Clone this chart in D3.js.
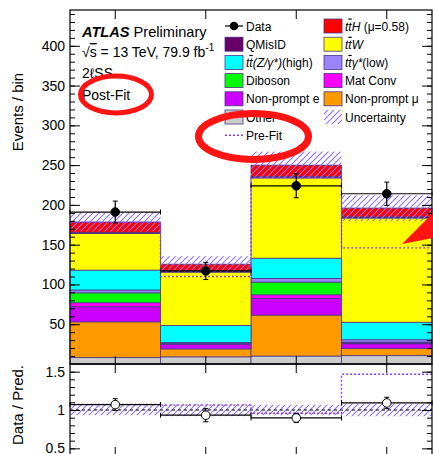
<!DOCTYPE html>
<html>
<head>
<meta charset="utf-8">
<script src="https://cdn.jsdelivr.net/npm/d3@7"></script>
<style>
  html, body { margin: 0; padding: 0; background: #fff; }
  svg { display: block; font-family: "Liberation Sans", Arial, sans-serif; }
  .axis path { display: none; }
  .axis line { stroke: #000; stroke-width: 1; }
  .axis text { font-size: 14px; fill: #000; }
</style>
</head>
<body>
<svg id="chart" width="433" height="454"></svg>
<script>
// bins of the 2lSS region
const bins = ['1', '2', '3', '4'];

// post-fit yields per bin (events), bottom of stack first
const other = [8, 9, 10, 10.5];
const nonPromptMu = [45, 10, 51.5, 9];
const nonPromptE = [19, 5.5, 21, 6];
const matConv = [5, 1, 4.5, 1];
const diboson = [12.5, 0.5, 16, 1];
const ttGammaLow = [3.5, 1, 4.5, 3];
const ttZHigh = [25, 21.5, 25.5, 22];
const ttW = [46, 67, 101, 131];
const qMisID = [1.5, 1.5, 1.5, 1.5];
const ttH = [13, 8.5, 14.5, 11];

const uncertainty = [12, 10, 17, 16];
const data = [191, 117, 224, 214];
const dataErr = [13.8, 10.8, 15, 14.6];
const preFit = [178, 110, 234, 146];

const yMajorTicks = [50, 100, 150, 200, 250, 300, 350, 400];
const ratioMajorTicks = [0.5, 1, 1.5];

const samples = [
  { key: 'other', color: '#cccccc', values: other },
  { key: 'npMu', color: '#ff9900', values: nonPromptMu },
  { key: 'npE', color: '#cc00ff', values: nonPromptE },
  { key: 'matConv', color: '#ff00ff', values: matConv },
  { key: 'diboson', color: '#00ff00', values: diboson },
  { key: 'ttGamma', color: '#9b85ff', values: ttGammaLow },
  { key: 'ttZ', color: '#00ffff', values: ttZHigh },
  { key: 'ttW', color: '#ffff00', values: ttW },
  { key: 'qMisID', color: '#660066', values: qMisID },
  { key: 'ttH', color: '#ff0000', values: ttH },
];
const colorOf = {};
samples.forEach((s) => (colorOf[s.key] = s.color));

const LEFT = 70;
const RIGHT = 432;
const TOP = 10;
const MAIN_BOTTOM = 364;
const RATIO_BOTTOM = 456;

const outline = '#4a3588';
const hatchColor = '#8e70ee';
const preFitColor = '#8a3cf0';

const svg = d3.select('#chart');

const defs = svg.append('defs');
defs
  .append('pattern')
  .attr('id', 'hatch')
  .attr('patternUnits', 'userSpaceOnUse')
  .attr('width', 6)
  .attr('height', 6)
  .append('path')
  .attr('d', 'M-1,1 l2,-2 M0,6 l6,-6 M5,7 l2,-2')
  .attr('stroke', hatchColor)
  .attr('stroke-width', 1.1);

//
// Scales
//

const x = d3.scaleBand().domain(bins).range([LEFT, RIGHT]).padding(0);
const bw = x.bandwidth();
const y = d3.scaleLinear().domain([0, 445]).range([MAIN_BOTTOM, TOP]);
const r = d3.scaleLinear().domain([0.4, 1.6]).range([RATIO_BOTTOM, MAIN_BOTTOM]);

//
// Stack
//

const table = bins.map((b, i) => {
  const row = { bin: b };
  samples.forEach((s) => (row[s.key] = s.values[i]));
  return row;
});
const stacked = d3.stack().keys(samples.map((s) => s.key))(table);
const totals = bins.map((b, i) => d3.sum(samples, (s) => s.values[i]));

const stackGroup = svg.append('g');
stacked.forEach((layer) => {
  stackGroup
    .selectAll(null)
    .data(layer)
    .join('rect')
    .attr('x', (d) => x(d.data.bin))
    .attr('width', bw)
    .attr('y', (d) => y(d[1]))
    .attr('height', (d) => y(d[0]) - y(d[1]))
    .attr('fill', colorOf[layer.key])
    .attr('stroke', outline)
    .attr('stroke-width', 0.8);
});

// uncertainty band
svg
  .append('g')
  .selectAll('rect')
  .data(bins)
  .join('rect')
  .attr('x', (b) => x(b))
  .attr('width', bw)
  .attr('y', (b, i) => y(totals[i] + uncertainty[i]))
  .attr('height', (b, i) => y(totals[i] - uncertainty[i]) - y(totals[i] + uncertainty[i]))
  .attr('fill', 'url(#hatch)');

// pre-fit step line
const stepPoints = (vals) =>
  vals.map((v, i) => [x(bins[i]), v]).concat([[RIGHT, vals[vals.length - 1]]]);

svg
  .append('path')
  .datum(stepPoints(preFit))
  .attr('fill', 'none')
  .attr('stroke', preFitColor)
  .attr('stroke-width', 1.4)
  .attr('stroke-dasharray', '2,2')
  .attr('d', d3.line().curve(d3.curveStepAfter).x((d) => d[0]).y((d) => y(d[1])));

//
// Data points
//

function drawPoints(g, vals, errs, scale, open) {
  vals.forEach((v, i) => {
    const x0 = x(bins[i]);
    const cx = x0 + bw / 2;
    const cy = scale(v);
    g.append('line')
      .attr('x1', x0).attr('x2', x0 + bw)
      .attr('y1', cy).attr('y2', cy)
      .attr('stroke', '#000').attr('stroke-width', 1.2);
    [x0, x0 + bw].forEach((ex) =>
      g.append('line')
        .attr('x1', ex).attr('x2', ex)
        .attr('y1', cy - 2.5).attr('y2', cy + 2.5)
        .attr('stroke', '#000').attr('stroke-width', 1));
    const top = scale(v + errs[i]);
    const bot = scale(v - errs[i]);
    g.append('line')
      .attr('x1', cx).attr('x2', cx)
      .attr('y1', top).attr('y2', bot)
      .attr('stroke', '#000').attr('stroke-width', 1.2);
    [top, bot].forEach((ey) =>
      g.append('line')
        .attr('x1', cx - 2.5).attr('x2', cx + 2.5)
        .attr('y1', ey).attr('y2', ey)
        .attr('stroke', '#000').attr('stroke-width', 1));
    g.append('circle')
      .attr('cx', cx).attr('cy', cy).attr('r', 4.3)
      .attr('fill', open ? '#fff' : '#000')
      .attr('stroke', '#000').attr('stroke-width', 1);
  });
}

drawPoints(svg.append('g'), data, dataErr, y, false);

//
// Ratio panel
//

const ratio = svg.append('g');

ratio
  .selectAll('rect')
  .data(bins)
  .join('rect')
  .attr('x', (b) => x(b))
  .attr('width', bw)
  .attr('y', (b, i) => r(1 + uncertainty[i] / totals[i]))
  .attr('height', (b, i) => r(1 - uncertainty[i] / totals[i]) - r(1 + uncertainty[i] / totals[i]))
  .attr('fill', 'url(#hatch)');

ratio
  .append('line')
  .attr('x1', LEFT).attr('x2', RIGHT)
  .attr('y1', r(1)).attr('y2', r(1))
  .attr('stroke', '#000').attr('stroke-width', 1)
  .attr('stroke-dasharray', '3,3');

ratio
  .append('path')
  .datum(stepPoints(data.map((d, i) => d / preFit[i])))
  .attr('fill', 'none')
  .attr('stroke', preFitColor)
  .attr('stroke-width', 1.4)
  .attr('stroke-dasharray', '2,2')
  .attr('d', d3.line().curve(d3.curveStepAfter).x((d) => d[0]).y((d) => r(d[1])));

drawPoints(
  ratio,
  data.map((d, i) => d / totals[i]),
  dataErr.map((e, i) => e / totals[i]),
  r,
  true,
);

//
// Frames and axes
//

[[TOP, MAIN_BOTTOM], [MAIN_BOTTOM, RATIO_BOTTOM]].forEach(([t, b]) =>
  svg.append('rect')
    .attr('x', LEFT).attr('y', t)
    .attr('width', RIGHT - LEFT).attr('height', b - t)
    .attr('fill', 'none').attr('stroke', '#000').attr('stroke-width', 1.2));

function yAxes(scale, majors, minors, fmt) {
  svg.append('g').attr('class', 'axis')
    .attr('transform', `translate(${LEFT},0)`)
    .call(d3.axisLeft(scale).tickValues(majors).tickSize(-10).tickPadding(5).tickFormat(fmt));
  svg.append('g').attr('class', 'axis')
    .attr('transform', `translate(${LEFT},0)`)
    .call(d3.axisLeft(scale).tickValues(minors).tickSize(-5).tickFormat(''));
  svg.append('g').attr('class', 'axis')
    .attr('transform', `translate(${RIGHT},0)`)
    .call(d3.axisRight(scale).tickValues(majors).tickSize(-10).tickFormat(''));
  svg.append('g').attr('class', 'axis')
    .attr('transform', `translate(${RIGHT},0)`)
    .call(d3.axisRight(scale).tickValues(minors).tickSize(-5).tickFormat(''));
}

yAxes(y, yMajorTicks, d3.range(10, 445, 10), d3.format('d'));
yAxes(r, ratioMajorTicks, d3.range(0.5, 1.6, 0.1), (d) => `${d}`);

[TOP, MAIN_BOTTOM].forEach((ty) =>
  svg.append('g').attr('class', 'axis')
    .attr('transform', `translate(0,${ty})`)
    .call(d3.axisTop(x).tickSize(-9).tickFormat('')));
[MAIN_BOTTOM + 1, RATIO_BOTTOM].forEach((ty) =>
  svg.append('g').attr('class', 'axis')
    .attr('transform', `translate(0,${ty})`)
    .call(d3.axisBottom(x).tickSize(-9).tickFormat('')));

svg.append('text')
  .attr('transform', 'translate(23,112) rotate(-90)')
  .attr('text-anchor', 'middle')
  .attr('font-size', 15)
  .text('Events / bin');

svg.append('text')
  .attr('transform', 'translate(23,405) rotate(-90)')
  .attr('text-anchor', 'middle')
  .attr('font-size', 15)
  .text('Data / Pred.');

//
// Labels
//

function rich(sel, parts) {
  parts.forEach(([t, style]) => {
    const ts = sel.append('tspan').text(t);
    if (style && style.includes('i')) ts.attr('font-style', 'italic');
    if (style && style.includes('o')) ts.style('text-decoration', 'overline');
    if (style && style.includes('b')) ts.attr('font-weight', 'bold');
    if (style && style.includes('s')) ts.attr('font-size', 10).attr('dy', -6);
  });
  return sel;
}

const info = svg.append('g').attr('font-size', 14.6);
rich(info.append('text').attr('x', 82).attr('y', 37), [['ATLAS', 'bi'], ['  Preliminary']]);
rich(info.append('text').attr('x', 82).attr('y', 57).attr('font-size', 14), [
  ['√'], ['s', 'o'], [' = 13 TeV, 79.9 fb'], ['-1', 's'],
]);
info.append('text').attr('x', 82).attr('y', 78).attr('font-size', 14).text('2ℓSS');
info.append('text').attr('x', 82).attr('y', 100).attr('font-size', 14).text('Post-Fit');

//
// Legend
//

const tt = [['t', 'i'], ['t', 'io']];
const legendLeft = [
  { type: 'data', label: [['Data']] },
  { type: 'box', key: 'qMisID', label: [['QMisID']] },
  { type: 'box', key: 'ttZ', label: [...tt, ['(Z/γ*)', 'i'], ['(high)']] },
  { type: 'box', key: 'diboson', label: [['Diboson']] },
  { type: 'box', key: 'npE', label: [['Non-prompt e']] },
  { type: 'box', key: 'other', label: [['Other']] },
  { type: 'prefit', label: [['Pre-Fit']] },
];
const legendRight = [
  { type: 'box', key: 'ttH', label: [...tt, ['H', 'i'], [' (μ=0.58)']] },
  { type: 'box', key: 'ttW', label: [...tt, ['W', 'i']] },
  { type: 'box', key: 'ttGamma', label: [...tt, ['γ*', 'i'], ['(low)']] },
  { type: 'box', key: 'matConv', label: [['Mat Conv']] },
  { type: 'box', key: 'npMu', label: [['Non-prompt μ']] },
  { type: 'hatch', label: [['Uncertainty']] },
];

function drawLegend(items, bx) {
  items.forEach((it, i) => {
    const cy = 26 + i * 18.2;
    const g = svg.append('g');
    if (it.type === 'box') {
      g.append('rect')
        .attr('x', bx).attr('y', cy - 7).attr('width', 18).attr('height', 14)
        .attr('fill', colorOf[it.key]).attr('stroke', outline).attr('stroke-width', 0.8);
    } else if (it.type === 'hatch') {
      g.append('rect')
        .attr('x', bx).attr('y', cy - 7).attr('width', 18).attr('height', 14)
        .attr('fill', 'url(#hatch)');
    } else if (it.type === 'data') {
      g.append('line')
        .attr('x1', bx).attr('x2', bx + 18).attr('y1', cy).attr('y2', cy)
        .attr('stroke', '#000').attr('stroke-width', 1.2);
      g.append('circle').attr('cx', bx + 9).attr('cy', cy).attr('r', 4.3).attr('fill', '#000');
    } else {
      g.append('line')
        .attr('x1', bx).attr('x2', bx + 18).attr('y1', cy).attr('y2', cy)
        .attr('stroke', preFitColor).attr('stroke-width', 1.4)
        .attr('stroke-dasharray', '2,2');
    }
    rich(
      g.append('text').attr('x', bx + 21).attr('y', cy + 4.5).attr('font-size', 12),
      it.label,
    );
  });
}

drawLegend(legendLeft, 225);
drawLegend(legendRight, 324);

//
// Hand-drawn red marks on the figure
//

const marks = svg.append('g').attr('fill', 'none').attr('stroke', '#ff1414');
marks.append('ellipse')
  .attr('cx', 116).attr('cy', 94.5).attr('rx', 35.5).attr('ry', 18.5)
  .attr('stroke-width', 5);
marks.append('ellipse')
  .attr('cx', 253.5).attr('cy', 136.5).attr('rx', 55).attr('ry', 23)
  .attr('stroke-width', 7);
svg.append('polygon')
  .attr('points', '402,244 433,213 433,238')
  .attr('fill', '#ff1414');
</script>
</body>
</html>
